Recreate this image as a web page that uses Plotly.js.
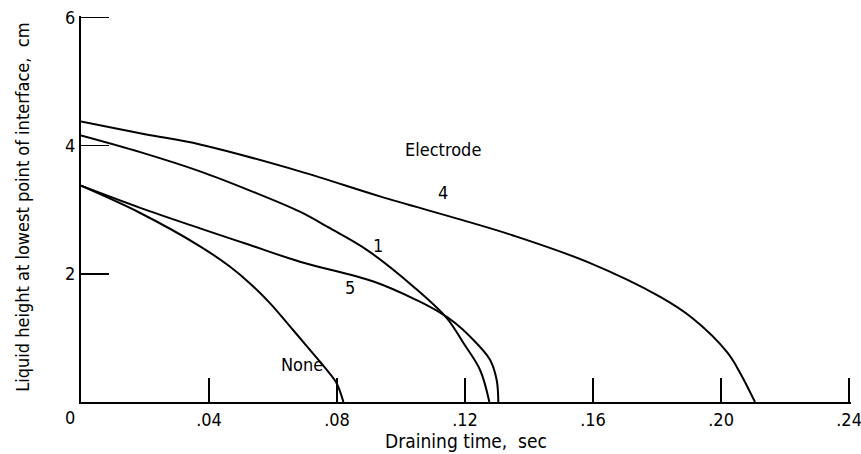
<!DOCTYPE html>
<html>
<head>
<meta charset="utf-8">
<script src="https://cdn.plot.ly/plotly-3.0.1.min.js"></script>
<style>html,body{margin:0;padding:0;background:#fff;}#chart{width:861px;height:454px;}</style>
</head>
<body>
<div id="chart"></div>
<script>
// Electrode 4
const x4 = [0, 0.02, 0.0372, 0.0684, 0.0934, 0.1184, 0.135, 0.158, 0.181, 0.191, 0.202, 0.206, 0.2106];
const y4 = [4.38, 4.18, 4.02, 3.60, 3.21, 2.85, 2.60, 2.19, 1.64, 1.31, 0.77, 0.45, 0];
// Electrode 1
const x1 = [0, 0.0185, 0.0372, 0.0528, 0.0684, 0.0775, 0.0893, 0.1039, 0.1143, 0.1195, 0.1247, 0.1276];
const y1 = [4.16, 3.90, 3.60, 3.30, 2.97, 2.72, 2.375, 1.80, 1.31, 0.92, 0.50, 0];
// Electrode 5
const x5 = [0, 0.0185, 0.0372, 0.0528, 0.0684, 0.0914, 0.1049, 0.1117, 0.1170, 0.1216, 0.1278, 0.1299, 0.1304];
const y5 = [3.375, 3.03, 2.71, 2.45, 2.19, 1.88, 1.59, 1.41, 1.23, 1.02, 0.66, 0.34, 0];
// None
const xN = [0, 0.0185, 0.0372, 0.0466, 0.0528, 0.0591, 0.0653, 0.0716, 0.0768, 0.0799, 0.082];
const yN = [3.375, 2.95, 2.43, 2.11, 1.85, 1.54, 1.18, 0.81, 0.50, 0.29, 0];

const xTickVals = [0.04, 0.08, 0.12, 0.16, 0.20, 0.24];
const xTickText = ['.04', '.08', '.12', '.16', '.20', '.24'];
const yTickVals = [2, 4, 6];
const yTickText = ['2', '4', '6'];

const FONT = '"Liberation Sans Narrow", "DejaVu Sans Condensed", "Liberation Sans", sans-serif';
const line = {color: '#000', width: 2, shape: 'spline', smoothing: 1};

const traces = [
  {x: x4, y: y4, mode: 'lines', line: line, name: '4'},
  {x: x1, y: y1, mode: 'lines', line: line, name: '1'},
  {x: x5, y: y5, mode: 'lines', line: line, name: '5'},
  {x: xN, y: yN, mode: 'lines', line: line, name: 'None'}
];

const ann = (text, x, y) => ({text, x, y, xref: 'x', yref: 'y', showarrow: false, font: {family: FONT, size: 18, color: '#000'}});

const layout = {
  width: 861, height: 454,
  margin: {l: 81, r: 10, t: 16, b: 52},
  paper_bgcolor: '#fff', plot_bgcolor: '#fff',
  showlegend: false,
  font: {family: FONT, size: 18, color: '#000'},
  xaxis: {
    range: [0, 0.2406], showgrid: false, zeroline: false,
    showline: true, linecolor: '#000', linewidth: 2,
    ticks: 'inside', ticklen: 24, tickwidth: 2, tickcolor: '#000',
    tickvals: xTickVals, ticktext: xTickText, ticklabeloverflow: 'allow',
    tickfont: {family: FONT, size: 18},
    title: {text: 'Draining time,  sec', font: {family: FONT, size: 19}, standoff: 2}
  },
  yaxis: {
    range: [0, 6.025], showgrid: false, zeroline: false,
    showline: true, linecolor: '#000', linewidth: 2,
    ticks: 'inside', ticklen: 28, tickwidth: 1.5, tickcolor: '#000',
    tickvals: yTickVals, ticktext: yTickText, ticklabeloverflow: 'allow',
    tickfont: {family: FONT, size: 18}
  },
  annotations: [
    ann('Electrode', 0.1131, 3.94),
    ann('4', 0.1131, 3.27),
    ann('1', 0.0928, 2.45),
    ann('5', 0.0841, 1.78),
    ann('None', 0.0691, 0.58),
    {text: '0', xref: 'paper', yref: 'paper', x: -0.0143, y: -0.039, xanchor: 'center', yanchor: 'middle',
     showarrow: false, font: {family: FONT, size: 18, color: '#000'}},
    {text: 'Liquid height at lowest point of interface,  cm', xref: 'paper', yref: 'paper',
     x: -0.077, y: 0.505, xanchor: 'center', yanchor: 'middle', textangle: -90,
     showarrow: false, font: {family: FONT, size: 18, color: '#000'}}
  ]
};

Plotly.newPlot('chart', traces, layout, {staticPlot: true, displayModeBar: false});
</script>
</body>
</html>
